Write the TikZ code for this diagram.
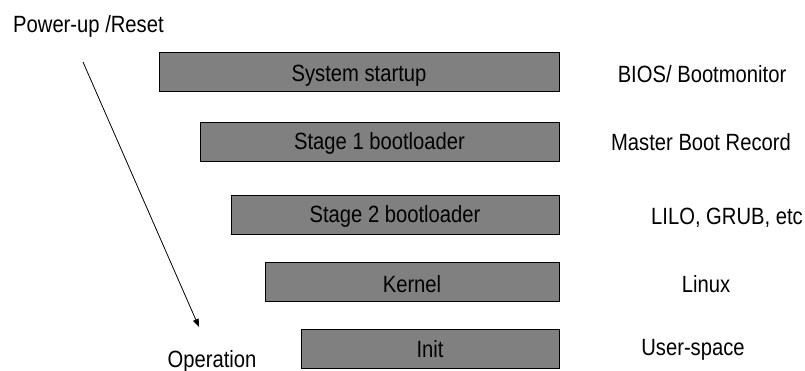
\documentclass[tikz,border=0pt]{standalone}
\usepackage{fontspec}
\setmainfont[FakeStretch=0.86]{Liberation Sans}
\usetikzlibrary{arrows.meta}
\definecolor{boxgray}{HTML}{808080}
\tikzset{
  stagebox/.style={draw=black, line width=0.9pt, fill=boxgray, inner sep=0pt, minimum height=39pt},
  lbl/.style={anchor=base, inner sep=0pt, font=\fontsize{23.5}{27}\selectfont},
  flow/.style={line width=0.8pt, -{Triangle[length=8pt,width=6pt]}}
}
\begin{document}
\begin{tikzpicture}[x=1pt,y=-1pt]
\useasboundingbox (0,0) rectangle (805,371);
% boxes
\node[stagebox, minimum width=400pt] (b1) at (359,71.5) {};
\node[stagebox, minimum width=359pt] (b2) at (379.5,142) {};
\node[stagebox, minimum width=328pt] (b3) at (395,214.5) {};
\node[stagebox, minimum width=294pt] (b4) at (412,282) {};
\node[stagebox, minimum width=258pt] (b5) at (430,348.5) {};
% box texts
\node[lbl] (t1) at (359,82) {System startup};
\node[lbl] (t2) at (379.5,150) {Stage 1 bootloader};
\node[lbl] (t3) at (395,223) {Stage 2 bootloader};
\node[lbl] (t4) at (412,292) {Kernel};
\node[lbl] (t5) at (430,357) {Init};
% right labels
\node[lbl] (r1) at (702,83) {BIOS/ Bootmonitor};
\node[lbl] (r2) at (701,151) {Master Boot Record};
\node[lbl] (r3) at (727,225) {LILO, GRUB, etc};
\node[lbl] (r4) at (706,292) {Linux};
\node[lbl] (r5) at (693,355) {User-space};
% left
\node[lbl, anchor=base west] (pw) at (13,33) {Power-up /Reset};
\node[lbl] (op) at (212,367) {Operation};
\coordinate (as) at (83,62);
\coordinate (ae) at (199,327);
\draw[flow] (as) -- (ae);
\end{tikzpicture}
\end{document}
